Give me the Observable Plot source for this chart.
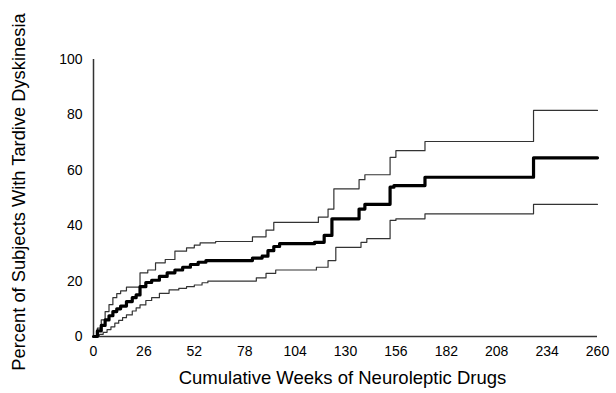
<!DOCTYPE html>
<html><head><meta charset="utf-8">
<script src="https://cdn.jsdelivr.net/npm/d3@7"></script>
<script src="https://cdn.jsdelivr.net/npm/@observablehq/plot@0.6"></script>
<style>
body{margin:0;background:#fff}
svg{font-family:"Liberation Sans",Arial,Helvetica,sans-serif}
</style>
</head><body><div id="chart"></div>
<script>
// Tick labels
const xTicks = [0, 26, 52, 78, 104, 130, 156, 182, 208, 234, 260];
const yTicks = [0, 20, 40, 60, 80, 100];
const xTitle = "Cumulative Weeks of Neuroleptic Drugs";
const yTitle = "Percent of Subjects With Tardive Dyskinesia";

// Kaplan-Meier estimate (step points: week, percent)
const estWeeks = [0, 2, 4, 6, 8, 10, 12, 14, 17, 20, 22, 24, 27, 30, 34, 38, 42, 46, 50, 54, 58, 82, 87, 90, 93, 96, 114, 119, 123, 137, 140, 153, 155, 171, 227, 260];
const estValues = [0, 2, 4, 6, 7.5, 9, 10, 11, 12.6, 14, 15, 18, 19.5, 20.3, 21.7, 23, 24, 25, 26, 26.8, 27.4, 28.3, 29, 31, 32.5, 33.5, 34, 36.5, 42.5, 46, 47.7, 53.9, 54.5, 57.5, 64.5, 64.5];

// Upper confidence bound
const upWeeks = [0, 2, 4, 6, 8, 10, 12, 14, 17, 24, 28, 32, 37, 42, 48, 52, 55, 63, 82, 89, 93, 116, 121, 124, 137, 140, 153, 156, 171, 227, 260];
const upValues = [0, 3, 6, 9, 11.5, 14, 15.5, 16.5, 17.8, 23, 24, 26.6, 27.8, 30.8, 32, 33, 33.8, 34.3, 36, 38.4, 41.2, 43.1, 46, 53.3, 56.6, 58.4, 64.7, 67.1, 70.4, 81.6, 81.6];

// Lower confidence bound
const loWeeks = [0, 3, 5, 7, 9, 11, 13, 15, 17, 20, 22, 24, 27, 30, 34, 39, 44, 48, 52, 56, 59, 84, 89, 94, 115, 121, 125, 138, 141, 153, 156, 171, 227, 260];
const loValues = [0, 0.8, 1.5, 2.5, 3.5, 4.8, 5.8, 6.8, 7.8, 9.2, 10.3, 11.4, 13, 14, 15.6, 16.8, 17.4, 18, 18.6, 19.4, 20, 21.2, 22.8, 24, 25, 27.4, 32.2, 34, 35.3, 41.9, 42.5, 44.3, 47.7, 47.7];

const toRows = (w, v) => w.map((d, i) => ({week: d, pct: v[i]}));
const est = toRows(estWeeks, estValues);
const up = toRows(upWeeks, upValues);
const lo = toRows(loWeeks, loValues);

const chart = Plot.plot({
  width: 616,
  height: 393,
  marginLeft: 93,
  marginRight: 19,
  marginTop: 59,
  marginBottom: 57,
  style: {background: "#fff", color: "#000", fontFamily: "'Liberation Sans', Arial, sans-serif"},
  x: {domain: [0, 260]},
  y: {domain: [0, 100]},
  marks: [
    Plot.axisX({ticks: xTicks, tickSize: 0, tickPadding: 10, fontSize: 14, label: null, fill: "#000"}),
    Plot.axisY({ticks: yTicks, tickSize: 0, tickPadding: 11, fontSize: 14, label: null, fill: "#000"}),
    Plot.ruleX([0], {y1: 0, y2: 100, stroke: "#333", strokeWidth: 1.5}),
    Plot.ruleY([0], {x1: 0, x2: 260, stroke: "#333", strokeWidth: 1.5}),
    Plot.line(up, {x: "week", y: "pct", curve: "step-after", stroke: "#333", strokeWidth: 1.2}),
    Plot.line(lo, {x: "week", y: "pct", curve: "step-after", stroke: "#333", strokeWidth: 1.2}),
    Plot.line(est, {x: "week", y: "pct", curve: "step-after", stroke: "#000", strokeWidth: 3.2}),
    Plot.text([xTitle], {frameAnchor: "bottom", textAnchor: "middle", dx: -3, dy: 47, fontSize: 18.5, fill: "#000"}),
    Plot.text([yTitle], {frameAnchor: "left", textAnchor: "middle", rotate: -90, dx: -74, dy: -6, fontSize: 18.3, fill: "#000"})
  ]
});
document.getElementById("chart").appendChild(chart);
</script>
</body></html>
